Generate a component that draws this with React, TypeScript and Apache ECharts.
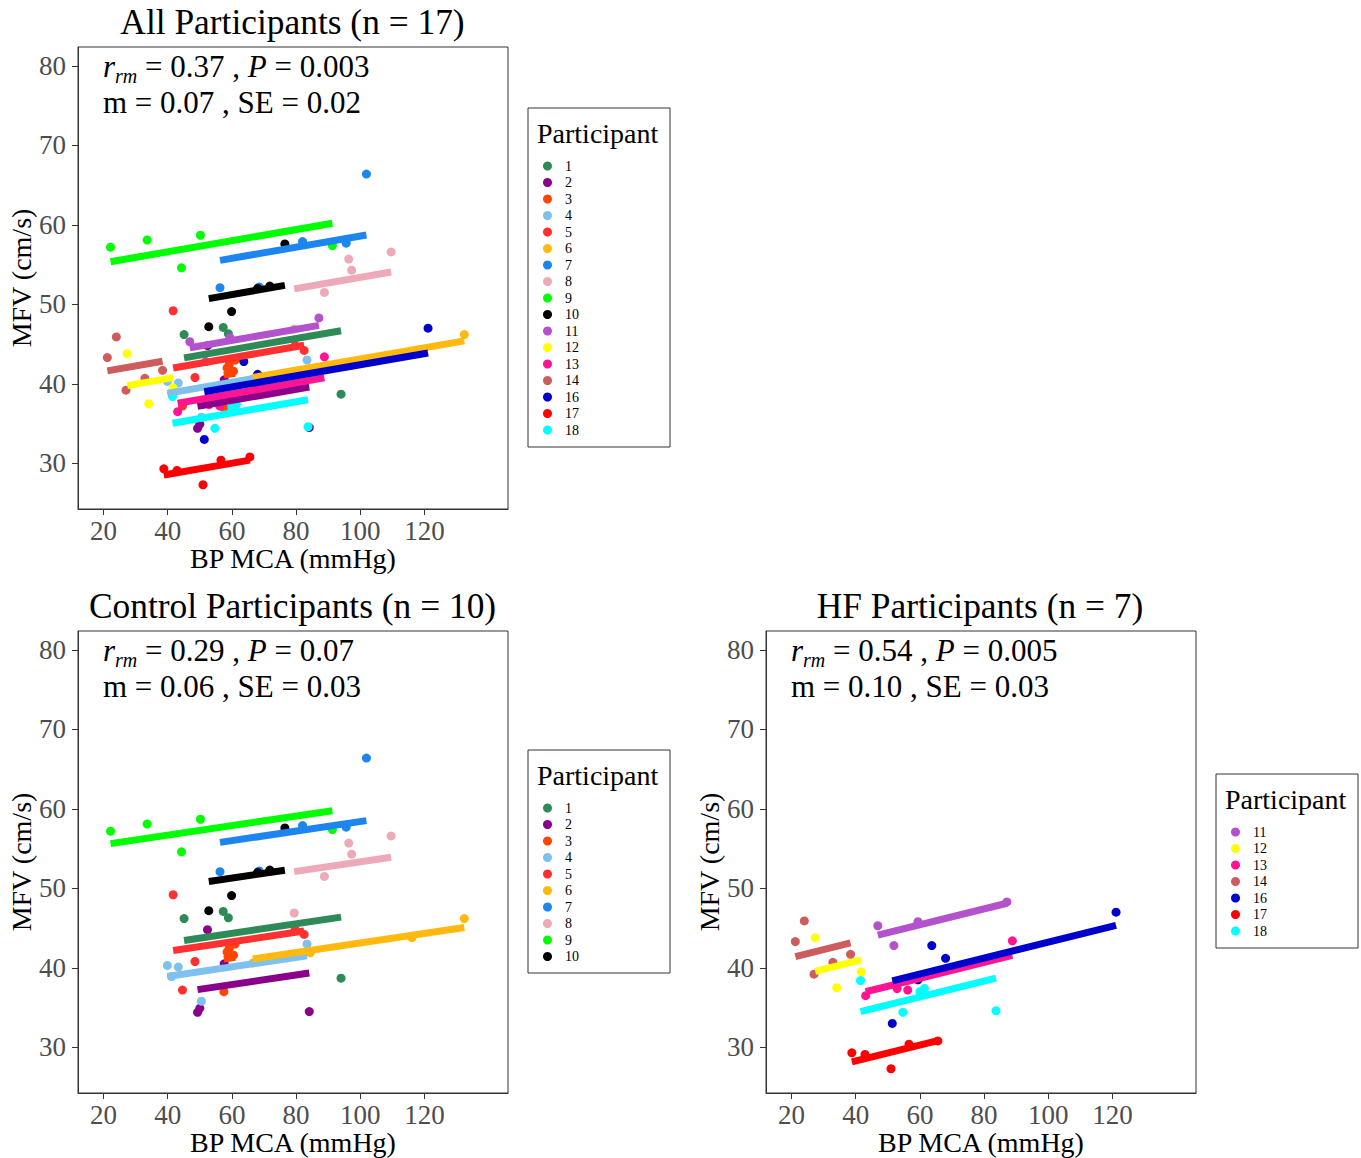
import React, { useEffect, useRef } from "react";
import * as echarts from "echarts";

const FONT = "'Liberation Serif', 'Times New Roman', serif";

// Participant identifiers and colours
const participantIds = ["1", "2", "3", "4", "5", "6", "7", "8", "9", "10", "11", "12", "13", "14", "16", "17", "18"];
const participantColors = [
  "#2E8B57", "#8B008B", "#FF4500", "#7EC0EE", "#FF3030", "#FFB90F", "#1C86EE", "#EEA9B8", "#00FF00",
  "#000000", "#B452CD", "#FFFF00", "#FF1493", "#CD5C5C", "#0000CD", "#FF0000", "#00FFFF",
];
const controlIds = ["1", "2", "3", "4", "5", "6", "7", "8", "9", "10"];
const hfIds = ["11", "12", "13", "14", "16", "17", "18"];

// [BP MCA (mmHg), MFV (cm/s)] observations per participant
const p1 = [[45.1, 46.2], [57.3, 47.1], [58.9, 46.3], [94.0, 38.7]];
const p2 = [[52.4, 44.8], [49.3, 34.4], [50.0, 34.9], [57.6, 40.5], [84.1, 34.5]];
const p3 = [[57.5, 37.0], [59.2, 42.5], [60.5, 41.6], [61.0, 43.0], [58.5, 42.0]];
const p4 = [[39.9, 40.3], [43.3, 40.1], [41.2, 38.9], [50.5, 35.8], [83.4, 43.0]];
const p5 = [[41.7, 49.2], [48.5, 40.8], [44.6, 37.2], [82.5, 44.2], [79.7, 44.8]];
const p6 = [[66.5, 40.6], [84.4, 41.9], [116.1, 43.8], [132.4, 46.2]];
const p7 = [[56.3, 52.1], [68.5, 52.2], [101.9, 66.4], [82.0, 57.9], [95.6, 57.7]];
const p8 = [[79.4, 46.9], [88.8, 51.5], [96.4, 55.7], [97.3, 54.3], [109.6, 56.6]];
const p9 = [[22.2, 57.2], [33.6, 58.1], [50.2, 58.7], [44.3, 54.6], [91.3, 57.4]];
const p10 = [[52.8, 47.2], [59.9, 49.1], [68.0, 52.0], [71.8, 52.3], [76.5, 57.6]];
const p11 = [[46.9, 45.3], [51.9, 42.8], [59.4, 45.8], [87.1, 48.3]];
const p12 = [[27.4, 43.8], [34.1, 37.5], [41.7, 39.5]];
const p13 = [[43.1, 36.5], [52.9, 37.4], [56.2, 37.2], [68.0, 39.8], [88.8, 43.4]];
const p14 = [[24.0, 45.9], [21.2, 43.3], [32.9, 40.7], [38.4, 41.7], [27.0, 39.2]];
const p16 = [[63.7, 42.8], [68.0, 41.2], [51.4, 33.0], [59.4, 38.5], [121.1, 47.0]];
const p17 = [[38.8, 29.3], [42.9, 29.1], [51.0, 27.3], [56.6, 30.4], [65.6, 30.8]];
const p18 = [[41.5, 38.4], [54.7, 34.4], [60.0, 37.0], [61.4, 37.4], [83.7, 34.6]];

const pointsById: Record<string, number[][]> = {
  "1": p1, "2": p2, "3": p3, "4": p4, "5": p5, "6": p6, "7": p7, "8": p8, "9": p9, "10": p10,
  "11": p11, "12": p12, "13": p13, "14": p14, "16": p16, "17": p17, "18": p18,
};

const xTicks = [20, 40, 60, 80, 100, 120];
const yTicks = [30, 40, 50, 60, 70, 80];

// Panel titles and repeated-measures statistics
const panelTitles = ["All Participants (n = 17)", "Control Participants (n = 10)", "HF Participants (n = 7)"];
const panelR = ["0.37", "0.29", "0.54"];
const panelP = ["0.003", "0.07", "0.005"];
const panelSlopeText = ["0.07", "0.06", "0.10"];
const panelSE = ["0.02", "0.03", "0.03"];
const panelSlopes = [0.07, 0.06, 0.1];
const panelIds = [participantIds, controlIds, hfIds];

// layout (pixels)
const gridBoxes = [
  { left: 78, top: 47, width: 430, height: 462 },
  { left: 78, top: 631, width: 430, height: 462 },
  { left: 766, top: 631, width: 430, height: 462 },
];
const titleCenters = [292.5, 292.5, 980];
const legendBoxes = [
  { x: 528, y: 108, w: 142, h: 339 },
  { x: 528, y: 750, w: 142, h: 223 },
  { x: 1216, y: 774, w: 142, h: 174 },
];
const X_MIN = 12.06, X_MAX = 146.0, Y_MIN = 24.25, Y_MAX = 82.39;

function colorOf(id: string) {
  return participantColors[participantIds.indexOf(id)];
}

function fitLine(pts: number[][], slope: number) {
  const n = pts.length;
  const mx = pts.reduce((s, p) => s + p[0], 0) / n;
  const my = pts.reduce((s, p) => s + p[1], 0) / n;
  const xs = pts.map((p) => p[0]);
  const x0 = Math.min(...xs), x1 = Math.max(...xs);
  return [[x0, my + slope * (x0 - mx)], [x1, my + slope * (x1 - mx)]];
}

export default function App() {
  const ref = useRef<HTMLDivElement>(null);
  useEffect(() => {
    document.body.style.margin = "0";
    if (!ref.current) return;
    const chart = echarts.init(ref.current, undefined, { renderer: "svg" });

    const grids = gridBoxes.map((g) => ({ ...g, show: true, borderColor: "#333", borderWidth: 1, backgroundColor: "#fff" }));
    const xAxes = gridBoxes.map((_, i) => ({
      type: "value", gridIndex: i, min: X_MIN, max: X_MAX,
      name: "BP MCA (mmHg)", nameLocation: "middle", nameGap: 34,
      nameTextStyle: { fontFamily: FONT, fontSize: 28, color: "#000" },
      axisLine: { show: true, lineStyle: { color: "#333" } },
      axisTick: { show: true, length: 6, customValues: xTicks, lineStyle: { color: "#333" } },
      axisLabel: { customValues: xTicks, fontFamily: FONT, fontSize: 27, color: "#4D4D4D", margin: 8 },
      splitLine: { show: false },
    }));
    const yAxes = gridBoxes.map((_, i) => ({
      type: "value", gridIndex: i, min: Y_MIN, max: Y_MAX,
      name: "MFV (cm/s)", nameLocation: "middle", nameGap: 42,
      nameTextStyle: { fontFamily: FONT, fontSize: 28, color: "#000" },
      axisLine: { show: true, lineStyle: { color: "#333" } },
      axisTick: { show: true, length: 6, customValues: yTicks, lineStyle: { color: "#333" } },
      axisLabel: { customValues: yTicks, fontFamily: FONT, fontSize: 27, color: "#4D4D4D", margin: 12 },
      splitLine: { show: false },
    }));

    const scatterSeries: any[] = [];
    const lineSeries: any[] = [];
    panelIds.forEach((ids, pi) => {
      ids.forEach((id) => {
        scatterSeries.push({
          name: id, type: "scatter", xAxisIndex: pi, yAxisIndex: pi,
          data: pointsById[id], symbol: "circle", symbolSize: 9,
          itemStyle: { color: colorOf(id), opacity: 1 }, z: 2,
        });
        lineSeries.push({
          name: id, type: "line", xAxisIndex: pi, yAxisIndex: pi,
          data: fitLine(pointsById[id], panelSlopes[pi]), showSymbol: false, symbol: "none",
          lineStyle: { color: colorOf(id), width: 7, cap: "butt" }, itemStyle: { color: colorOf(id) }, z: 3,
        });
      });
    });

    const legends = panelIds.map((ids, pi) => ({
      data: ids.map((id) => ({ name: id, icon: "circle" })),
      orient: "vertical", left: legendBoxes[pi].x + 10, top: legendBoxes[pi].y + 46,
      itemWidth: 9, itemHeight: 9, itemGap: 2.5, z: 20,
      textStyle: { fontFamily: FONT, fontSize: 14, color: "#000", padding: [0, 0, 0, 8] },
      selectedMode: false,
    }));

    const titles = panelTitles.map((t, pi) => ({
      text: t, left: titleCenters[pi], top: gridBoxes[pi].top - 43, textAlign: "center", padding: 0,
      textStyle: { fontFamily: FONT, fontSize: 35.4, fontWeight: "normal", color: "#000" },
    }));

    const graphics: any[] = [];
    panelIds.forEach((_, pi) => {
      const g = gridBoxes[pi];
      const lb = legendBoxes[pi];
      graphics.push({
        type: "rect", shape: { x: lb.x, y: lb.y, width: lb.w, height: lb.h },
        style: { fill: "none", stroke: "#333", lineWidth: 1 }, z: 0, silent: true,
      });
      graphics.push({
        type: "text", x: lb.x + 9, y: lb.y + 25, z: 11,
        style: { text: "Participant", font: `28px ${FONT}`, fill: "#000", verticalAlign: "middle" },
      });
      const base = { fontSize: 31, fontFamily: FONT, fill: "#000", lineHeight: 27, padding: [0, 0, 4, 0], verticalAlign: "bottom" };
      graphics.push({
        type: "text", x: g.left + 25, y: g.top + 25, z: 11,
        style: {
          text: `{i|r}{s|rm}{n| = ${panelR[pi]} , }{i|P}{n| = ${panelP[pi]}}`,
          verticalAlign: "middle",
          rich: {
            n: base,
            i: { ...base, fontStyle: "italic" },
            s: { fontSize: 20, fontFamily: FONT, fontStyle: "italic", fill: "#000", lineHeight: 16, verticalAlign: "bottom" },
          },
        },
      });
      graphics.push({
        type: "text", x: g.left + 25, y: g.top + 55, z: 11,
        style: { text: `m = ${panelSlopeText[pi]} , SE = ${panelSE[pi]}`, font: `31px ${FONT}`, lineHeight: 26, fill: "#000", verticalAlign: "middle" },
      });
    });

    chart.setOption({
      animation: false,
      backgroundColor: "#fff",
      title: titles,
      grid: grids,
      xAxis: xAxes,
      yAxis: yAxes,
      legend: legends,
      series: [...scatterSeries, ...lineSeries],
      graphic: graphics,
    });
    return () => chart.dispose();
  }, []);
  return <div ref={ref} style={{ width: 1361, height: 1158 }} />;
}
